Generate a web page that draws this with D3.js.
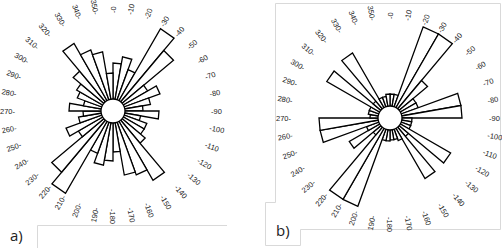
<!DOCTYPE html>
<html>
<head>
<meta charset="utf-8">
<script src="https://cdn.jsdelivr.net/npm/d3@7"></script>
<style>
  body { margin: 0; background: #fff; }
  svg { display: block; }
  .lbl { font-family: "Liberation Sans", Arial, sans-serif; font-size: 7.5px; fill: #222; }
  .tag { font-family: "Open Sans", "DejaVu Sans", sans-serif; font-size: 15px; fill: #222; }
</style>
</head>
<body>
<div id="chart"></div>
<script>
// bin starts, 10 degree sectors, 0 at top, clockwise
var bins = d3.range(0, 360, 10);

// bar lengths (outside the centre hole), panel a
var valuesA = [36, 43, 32, 83, 67, 28, 38, 26, 18, 34, 16, 24,
               24, 30, 68, 56, 53, 29, 38, 43, 33, 83, 68, 28,
               38, 23, 18, 32, 18, 26, 30, 40, 66, 53, 48, 26];

// bar lengths, panel b
var valuesB = [12, 12, 85, 85, 37, 18, 18, 60, 60, 10, 10, 10,
               58, 12, 58, 12, 10, 10, 11, 11, 82, 82, 10, 35,
               13, 59, 59, 8, 10, 10, 61, 10, 63, 10, 10, 12];

// tick labels
var tickLabels = bins.map(String);

var w = 502;
var h = 248;
var hole = 12;

var svg = d3.select("#chart")
            .append("svg")
            .attr("width", w)
            .attr("height", h);

//Frames
var frame = svg.append("g")
               .attr("fill", "none")
               .attr("stroke", "#d9d9d9")
               .attr("stroke-width", 1);

frame.append("path").attr("d", "M37.5,248 V225.5 H227");
frame.append("path").attr("d", "M265.5,202.5 H275.5 V3.5 H500.5 V229.5 H300.5 M300.5,229.5 V245.5 H265.5 V202.5");

svg.append("text").attr("class", "tag").attr("x", 10).attr("y", 241).text("a)");
svg.append("text").attr("class", "tag").attr("x", 276).attr("y", 236).text("b)");

function drawRose(values, cx, cy, labelR) {

    var r = d3.scaleLinear()
              .domain([0, 85])
              .range([hole, hole + 85]);

    var ang = d3.scaleLinear()
                .domain([0, 360])
                .range([0, 2 * Math.PI]);

    var g = svg.append("g")
               .attr("transform", "translate(" + cx + "," + cy + ")");

    var pt = function(a, rad) {
        return [rad * Math.sin(ang(a)), -rad * Math.cos(ang(a))];
    };

    //Add wedges
    g.selectAll("path.bar")
        .data(values)
        .join("path")
        .attr("class", "bar")
        .attr("d", function(d, i) {
            var p0 = pt(bins[i], r(d));
            var p1 = pt(bins[i] + 10, r(d));
            return "M0,0L" + p0 + "L" + p1 + "Z";
        })
        .attr("fill", "#fff")
        .attr("stroke", "#000")
        .attr("stroke-width", 1.3)
        .attr("stroke-linejoin", "miter");

    //Centre hole
    g.append("circle")
        .attr("r", hole)
        .attr("fill", "#fff")
        .attr("stroke", "#000")
        .attr("stroke-width", 1.3);

    //Angle labels
    g.selectAll("text.lbl")
        .data(bins)
        .join("text")
        .attr("class", "lbl")
        .attr("transform", function(d) {
            var p = pt(d, labelR);
            var rot = d <= 180 ? d - 90 : d - 270;
            return "translate(" + p + ") rotate(" + rot + ")";
        })
        .attr("text-anchor", d => d <= 180 ? "start" : "end")
        .attr("dy", "0.35em")
        .text((d, i) => d <= 180 ? "-" + tickLabels[i] : tickLabels[i] + "-");
}

drawRose(valuesA, 113, 111, 98);
drawRose(valuesB, 390, 118, 99);
</script>
</body>
</html>
